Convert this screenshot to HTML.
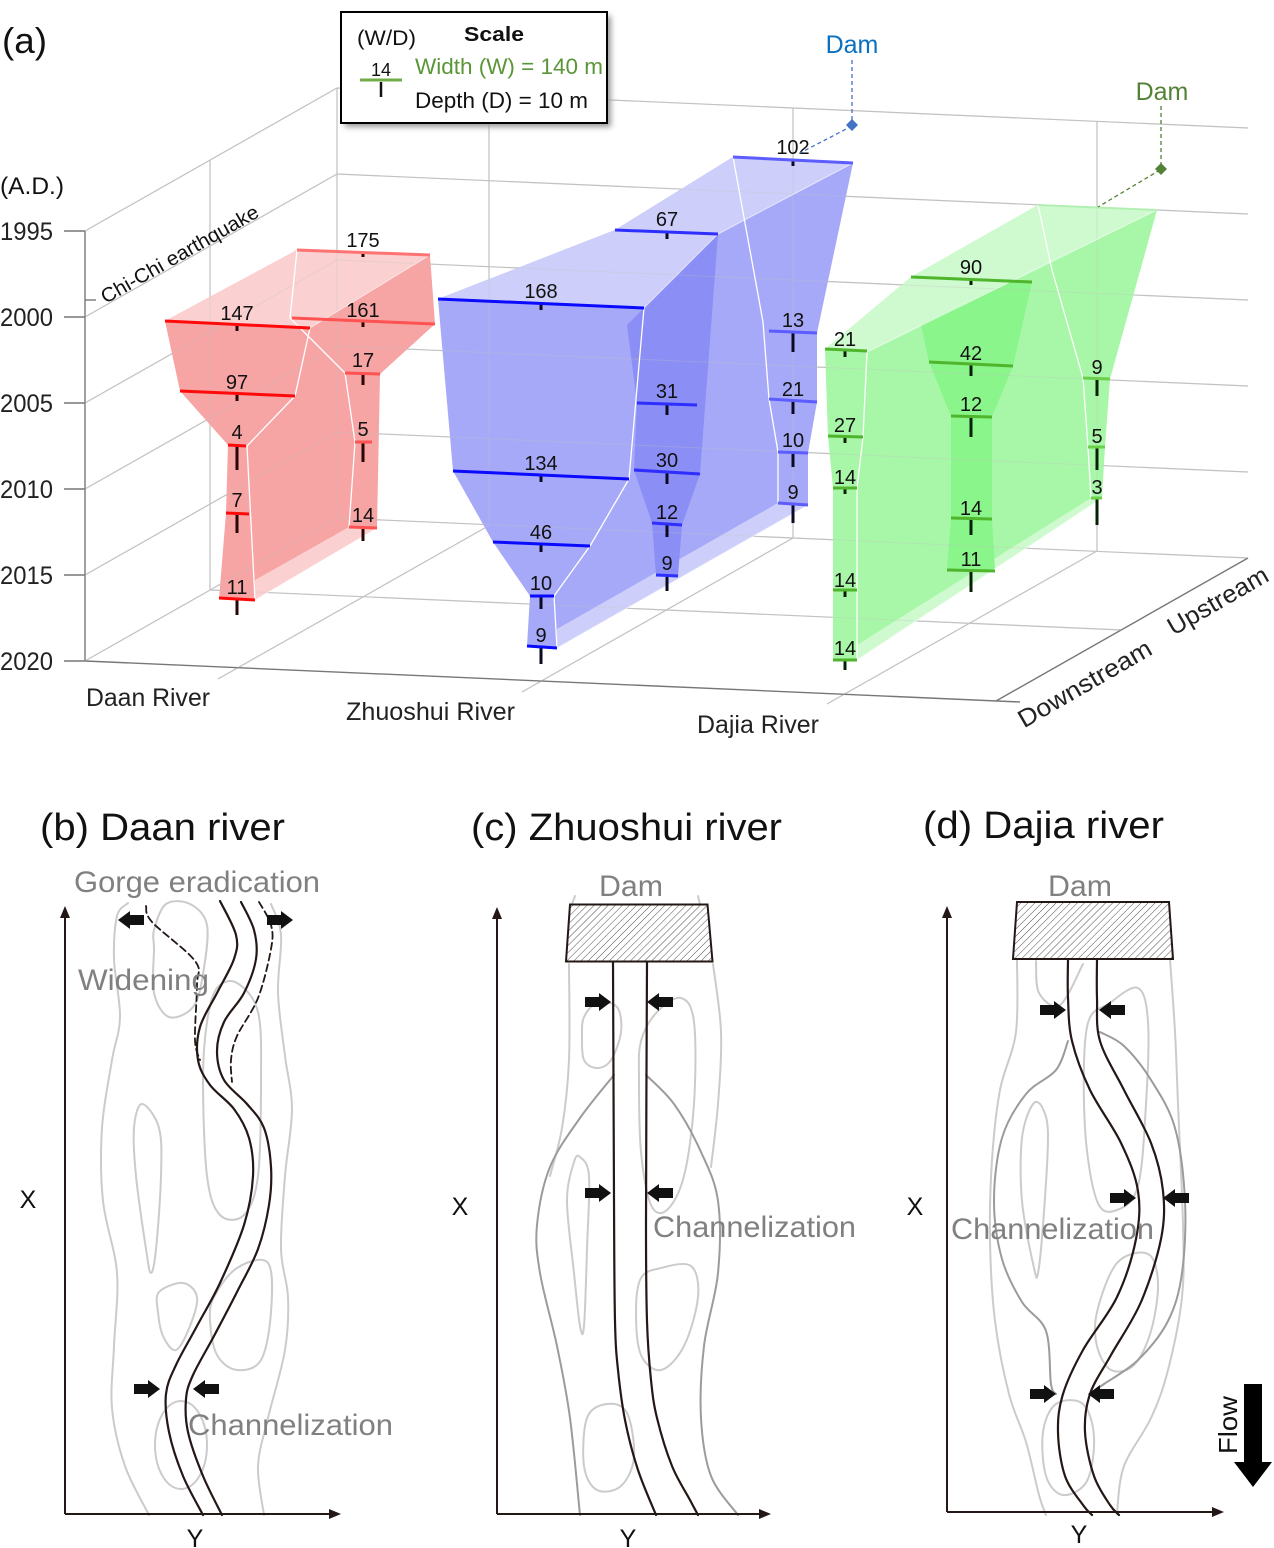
<!DOCTYPE html>
<html>
<head>
<meta charset="utf-8">
<style>
  html,body{margin:0;padding:0;background:#fff;}
  svg{display:block;}
  text{font-family:"Liberation Sans",Arial,sans-serif;}
</style>
</head>
<body>
<svg id="main" width="1274" height="1548" viewBox="0 0 1274 1548" xmlns="http://www.w3.org/2000/svg">
<defs>
  <pattern id="hatch" patternUnits="userSpaceOnUse" width="5" height="5" patternTransform="rotate(45)">
    <line x1="0" y1="0" x2="0" y2="5" stroke="#3a3a3a" stroke-width="0.9"/>
  </pattern>
  <filter id="blur" x="-10%" y="-10%" width="130%" height="140%">
    <feGaussianBlur stdDeviation="3"/>
  </filter>
</defs>
<rect width="1274" height="1548" fill="#fff"/>

<!-- ================= PANEL (a) GRID ================= -->
<g id="grid" stroke="#c2c2c2" stroke-width="1.2" fill="none">
  <line x1="85" y1="231" x2="337" y2="88"/>
  <line x1="85" y1="317" x2="337" y2="174"/>
  <line x1="85" y1="403" x2="337" y2="260"/>
  <line x1="85" y1="489" x2="337" y2="346"/>
  <line x1="85" y1="575" x2="337" y2="432"/>
  <line x1="85" y1="661" x2="337" y2="518"/>
  <line x1="337" y1="88" x2="1248" y2="128"/>
  <line x1="337" y1="174" x2="1248" y2="214"/>
  <line x1="337" y1="260" x2="1248" y2="300"/>
  <line x1="337" y1="346" x2="1248" y2="386"/>
  <line x1="337" y1="432" x2="1248" y2="472"/>
  <line x1="337" y1="518" x2="1248" y2="558"/>
  <line x1="210" y1="160" x2="210" y2="590"/>
  <line x1="337" y1="88" x2="337" y2="518"/>
  <line x1="489" y1="95" x2="489" y2="525"/>
  <line x1="793" y1="108" x2="793" y2="538"/>
  <line x1="1097" y1="121" x2="1097" y2="551"/>
  <line x1="210" y1="590" x2="1122" y2="630"/>
  <line x1="218" y1="679" x2="490" y2="525"/>
  <line x1="522" y1="692" x2="793" y2="538"/>
  <line x1="827" y1="704" x2="1097" y2="551"/>
</g>
<g stroke="#777" stroke-width="1.4" fill="none">
  <line x1="85" y1="231" x2="85" y2="661"/>
  <line x1="85" y1="661" x2="1020" y2="702"/>
  <line x1="996" y1="701" x2="1248" y2="558"/>
  <line x1="64" y1="231" x2="85" y2="231"/>
  <line x1="64" y1="317" x2="85" y2="317"/>
  <line x1="64" y1="403" x2="85" y2="403"/>
  <line x1="64" y1="489" x2="85" y2="489"/>
  <line x1="64" y1="575" x2="85" y2="575"/>
  <line x1="64" y1="661" x2="85" y2="661"/>
  <line x1="85" y1="300" x2="96" y2="300"/>
</g>

<!-- ================= RED (Daan) ================= -->
<polygon fill="#f6a4a4" points="165,321 297,250 430,255 435,324 380,374 377,528 255,600 219,599 226,513 228,445 180,391"/>
<polygon fill="#fbd0d0" points="165,321 297,250 430,255 310,328"/>
<polygon fill="#fbd0d0" points="255,580 255,600 377,528 349,527"/>

<!-- ================= BLUE (Zhuoshui) ================= -->
<polygon fill="#a6a9f8" points="438,299 615,230 733,157 853,163 817,333 817,402 808,453 808,505 557,648 527,646 530,596 493,542 453,471"/>
<polygon fill="#cdcffa" points="438,299 615,230 733,157 853,163 718,234 644,308"/>
<polygon fill="#cdcffa" points="557,629 557,648 808,505 778,503"/>
<polygon fill="#8b8ef4" points="627,325 718,234 700,474 682,525 678,576 656,575 652,523 634,470 637,403"/>

<!-- ================= GREEN (Dajia) ================= -->
<polygon fill="#a8f7a8" points="825,349 911,277 1038,205 1157,210 1110,379 1105,447 1102,498 857,660 833,660 833,590 833,488 828,436"/>
<polygon fill="#cffacf" points="825,349 911,277 1038,205 1157,210 867,352"/>
<polygon fill="#cffacf" points="857,645 857,660 1102,498 1091,498"/>
<polygon fill="#8af58a" points="921,325 1012,281 1032,282 1013,366 992,417 992,519 995,571 947,570 951,518 951,416 929,362"/>

<!-- grid showing through -->
<use href="#grid" opacity="0.28"/>

<!-- white edges -->
<g fill="none" stroke="#fff" stroke-width="1.3" stroke-linejoin="round">
  <polyline points="297,250 290,318 345,373 355,442 349,527"/>
  <polyline points="310,328 295,396 247,446 255,600"/>
  <polyline points="644,308 629,479 590,546 554,596 557,648"/>
  <polyline points="733,157 763,322 769,399 778,452 778,503"/>
  <polyline points="867,352 863,437 857,488 857,660"/>
  <polyline points="1038,205 1052,270 1083,378 1088,447 1091,498"/>
</g>
<g fill="none" stroke="#fff" stroke-width="1" stroke-opacity="0.6">
  <line x1="310" y1="328" x2="430" y2="255"/>
  <polyline points="644,308 718,234 853,163"/>
  <line x1="867" y1="352" x2="1157" y2="210"/>
  <line x1="255" y1="600" x2="377" y2="528"/>
  <line x1="557" y1="648" x2="808" y2="505"/>
  <line x1="857" y1="660" x2="1102" y2="498"/>
</g>

<!-- depth ticks -->
<g stroke-width="3" fill="none">
  <g stroke="#2a0505">
    <line x1="237" y1="326" x2="237" y2="331"/>
    <line x1="237" y1="394" x2="237" y2="401"/>
    <line x1="237" y1="446" x2="237" y2="470"/>
    <line x1="237" y1="514" x2="237" y2="533"/>
    <line x1="237" y1="600" x2="237" y2="615"/>
    <line x1="363" y1="253" x2="363" y2="257"/>
    <line x1="363" y1="321" x2="363" y2="327"/>
    <line x1="363" y1="374" x2="363" y2="385"/>
    <line x1="363" y1="442" x2="363" y2="462"/>
    <line x1="363" y1="528" x2="363" y2="541"/>
  </g>
  <g stroke="#0a0a22">
    <line x1="541" y1="304" x2="541" y2="310"/>
    <line x1="541" y1="475" x2="541" y2="482"/>
    <line x1="541" y1="544" x2="541" y2="552"/>
    <line x1="541" y1="596" x2="541" y2="609"/>
    <line x1="541" y1="647" x2="541" y2="664"/>
    <line x1="667" y1="232" x2="667" y2="239"/>
    <line x1="667" y1="404" x2="667" y2="415"/>
    <line x1="667" y1="472" x2="667" y2="484"/>
    <line x1="667" y1="524" x2="667" y2="537"/>
    <line x1="667" y1="576" x2="667" y2="591"/>
    <line x1="793" y1="160" x2="793" y2="166"/>
    <line x1="793" y1="332" x2="793" y2="352"/>
    <line x1="793" y1="401" x2="793" y2="414"/>
    <line x1="793" y1="453" x2="793" y2="467"/>
    <line x1="793" y1="504" x2="793" y2="523"/>
  </g>
  <g stroke="#062006">
    <line x1="845" y1="350" x2="845" y2="357"/>
    <line x1="845" y1="437" x2="845" y2="443"/>
    <line x1="845" y1="488" x2="845" y2="494"/>
    <line x1="845" y1="590" x2="845" y2="597"/>
    <line x1="845" y1="660" x2="845" y2="670"/>
    <line x1="971" y1="279" x2="971" y2="285"/>
    <line x1="971" y1="364" x2="971" y2="376"/>
    <line x1="971" y1="417" x2="971" y2="437"/>
    <line x1="971" y1="519" x2="971" y2="535"/>
    <line x1="971" y1="571" x2="971" y2="592"/>
    <line x1="1097" y1="379" x2="1097" y2="396"/>
    <line x1="1097" y1="447" x2="1097" y2="470"/>
    <line x1="1097" y1="498" x2="1097" y2="525"/>
  </g>
</g>

<!-- width bars -->
<g stroke-width="3" fill="none">
  <g stroke="#ff0a0a">
    <line x1="165" y1="321" x2="310" y2="328"/>
    <line x1="180" y1="391" x2="295" y2="396"/>
    <line x1="228" y1="445" x2="246" y2="446"/>
    <line x1="226" y1="513" x2="249" y2="514"/>
    <line x1="219" y1="598" x2="255" y2="600"/>
  </g>
  <g stroke="#ff5252">
    <line x1="297" y1="250" x2="430" y2="255" stroke="#ff7373"/>
    <line x1="292" y1="318" x2="435" y2="324"/>
    <line x1="345" y1="373" x2="380" y2="374"/>
    <line x1="355" y1="442" x2="372" y2="442"/>
    <line x1="349" y1="527" x2="377" y2="528"/>
  </g>
  <g stroke="#0a0aff">
    <line x1="438" y1="299" x2="644" y2="308"/>
    <line x1="453" y1="471" x2="629" y2="479"/>
    <line x1="493" y1="542" x2="590" y2="546"/>
    <line x1="530" y1="596" x2="554" y2="596"/>
    <line x1="527" y1="646" x2="557" y2="648"/>
  </g>
  <g stroke="#2e2eff">
    <line x1="615" y1="230" x2="718" y2="234"/>
    <line x1="637" y1="403" x2="697" y2="405"/>
    <line x1="634" y1="470" x2="700" y2="474"/>
    <line x1="652" y1="523" x2="682" y2="525"/>
    <line x1="656" y1="575" x2="678" y2="576"/>
  </g>
  <g stroke="#5c5cff">
    <line x1="733" y1="157" x2="853" y2="163"/>
    <line x1="769" y1="331" x2="817" y2="333"/>
    <line x1="769" y1="399" x2="817" y2="402"/>
    <line x1="778" y1="452" x2="808" y2="453"/>
    <line x1="778" y1="503" x2="808" y2="505"/>
  </g>
  <g stroke="#4fb52c">
    <line x1="825" y1="349" x2="867" y2="351"/>
    <line x1="828" y1="436" x2="863" y2="437"/>
    <line x1="833" y1="488" x2="857" y2="488"/>
    <line x1="833" y1="590" x2="857" y2="590"/>
    <line x1="833" y1="660" x2="857" y2="660"/>
    <line x1="911" y1="277" x2="1032" y2="282"/>
    <line x1="929" y1="362" x2="1013" y2="366"/>
    <line x1="951" y1="416" x2="992" y2="417"/>
    <line x1="951" y1="518" x2="992" y2="519"/>
    <line x1="947" y1="570" x2="995" y2="571"/>
  </g>
  <g stroke="#6ad04a">
    <line x1="1083" y1="378" x2="1110" y2="379"/>
    <line x1="1088" y1="447" x2="1105" y2="447"/>
    <line x1="1091" y1="498" x2="1102" y2="498"/>
  </g>
  <line x1="1038" y1="205" x2="1157" y2="210" stroke="#b2efb2" stroke-width="2"/>
</g>

<!-- data labels -->
<g font-size="20" fill="#111" text-anchor="middle">
  <text x="237" y="320">147</text>
  <text x="237" y="389">97</text>
  <text x="237" y="439">4</text>
  <text x="237" y="507">7</text>
  <text x="237" y="594">11</text>
  <text x="363" y="247">175</text>
  <text x="363" y="317">161</text>
  <text x="363" y="367">17</text>
  <text x="363" y="436">5</text>
  <text x="363" y="522">14</text>

  <text x="541" y="298">168</text>
  <text x="541" y="470">134</text>
  <text x="541" y="539">46</text>
  <text x="541" y="590">10</text>
  <text x="541" y="642">9</text>
  <text x="667" y="226">67</text>
  <text x="667" y="398">31</text>
  <text x="667" y="467">30</text>
  <text x="667" y="519">12</text>
  <text x="667" y="570">9</text>
  <text x="793" y="154">102</text>
  <text x="793" y="327">13</text>
  <text x="793" y="396">21</text>
  <text x="793" y="447">10</text>
  <text x="793" y="499">9</text>

  <text x="845" y="346">21</text>
  <text x="845" y="432">27</text>
  <text x="845" y="484">14</text>
  <text x="845" y="587">14</text>
  <text x="845" y="655">14</text>
  <text x="971" y="274">90</text>
  <text x="971" y="360">42</text>
  <text x="971" y="411">12</text>
  <text x="971" y="515">14</text>
  <text x="971" y="566">11</text>
  <text x="1097" y="374">9</text>
  <text x="1097" y="443">5</text>
  <text x="1097" y="494">3</text>
</g>

<!-- Dam annotations -->
<g fill="none" stroke-width="1.3" stroke-dasharray="4,3">
  <line x1="852" y1="60" x2="852" y2="124" stroke="#4472c4"/>
  <line x1="852" y1="126" x2="800" y2="153" stroke="#4472c4"/>
  <line x1="1161" y1="106" x2="1161" y2="167" stroke="#548235"/>
  <line x1="1160" y1="170" x2="1098" y2="207" stroke="#548235"/>
</g>
<polygon points="852,119 858,125 852,131 846,125" fill="#4472c4"/>
<polygon points="1161,163 1167,169 1161,175 1155,169" fill="#548235"/>
<text x="852" y="53" font-size="25" fill="#0a70c0" text-anchor="middle">Dam</text>
<text x="1162" y="100" font-size="25" fill="#548235" text-anchor="middle">Dam</text>

<!-- Scale box -->
<rect x="345" y="16" width="266" height="111" fill="#9a9a9a" filter="url(#blur)"/>
<rect x="341" y="12" width="266" height="111" fill="#fff" stroke="#000" stroke-width="2"/>
<text x="357" y="45" font-size="21" fill="#111" textLength="59" lengthAdjust="spacingAndGlyphs">(W/D)</text>
<text x="464" y="41" font-size="20" font-weight="bold" fill="#111" textLength="60" lengthAdjust="spacingAndGlyphs">Scale</text>
<text x="381" y="76" font-size="18" fill="#111" text-anchor="middle">14</text>
<line x1="360" y1="80" x2="402" y2="80" stroke="#70ad47" stroke-width="3"/>
<line x1="381" y1="82" x2="381" y2="97" stroke="#111" stroke-width="2.5"/>
<text x="415" y="74" font-size="22" fill="#5a9537" textLength="188" lengthAdjust="spacingAndGlyphs">Width (W) = 140 m</text>
<text x="415" y="108" font-size="22" fill="#111" textLength="173" lengthAdjust="spacingAndGlyphs">Depth (D) = 10 m</text>

<!-- axis labels panel a -->
<text x="2" y="53" font-size="36" fill="#111" textLength="45" lengthAdjust="spacingAndGlyphs">(a)</text>
<text x="0" y="194" font-size="24" fill="#111" textLength="64" lengthAdjust="spacingAndGlyphs">(A.D.)</text>
<g font-size="25" fill="#222">
  <text x="0" y="240" textLength="53" lengthAdjust="spacingAndGlyphs">1995</text>
  <text x="0" y="326" textLength="53" lengthAdjust="spacingAndGlyphs">2000</text>
  <text x="0" y="412" textLength="53" lengthAdjust="spacingAndGlyphs">2005</text>
  <text x="0" y="498" textLength="53" lengthAdjust="spacingAndGlyphs">2010</text>
  <text x="0" y="584" textLength="53" lengthAdjust="spacingAndGlyphs">2015</text>
  <text x="0" y="670" textLength="53" lengthAdjust="spacingAndGlyphs">2020</text>
</g>
<text x="183" y="260" font-size="20" fill="#111" text-anchor="middle" transform="rotate(-29.6 183 260)" textLength="178" lengthAdjust="spacingAndGlyphs">Chi-Chi earthquake</text>
<g font-size="25" fill="#222">
  <text x="86" y="706" textLength="124" lengthAdjust="spacingAndGlyphs">Daan River</text>
  <text x="346" y="720" textLength="169" lengthAdjust="spacingAndGlyphs">Zhuoshui River</text>
  <text x="697" y="733" textLength="122" lengthAdjust="spacingAndGlyphs">Dajia River</text>
  <text x="1089" y="691" text-anchor="middle" transform="rotate(-30 1089 691)" textLength="150" lengthAdjust="spacingAndGlyphs">Downstream</text>
  <text x="1222" y="608" text-anchor="middle" transform="rotate(-30 1222 608)" textLength="112" lengthAdjust="spacingAndGlyphs">Upstream</text>
</g>

<!-- ================= PANEL TITLES ================= -->
<g font-size="38" fill="#111">
  <text x="40" y="840" textLength="245" lengthAdjust="spacingAndGlyphs">(b) Daan river</text>
  <text x="471" y="840" textLength="311" lengthAdjust="spacingAndGlyphs">(c) Zhuoshui river</text>
  <text x="923" y="838" textLength="241" lengthAdjust="spacingAndGlyphs">(d) Dajia river</text>
</g>

<!-- ================= PANEL (b) ================= -->
<g fill="none" stroke-linejoin="round" stroke-linecap="round">
  <g stroke="#cbcbcb" stroke-width="2">
    <polyline class="sm" points="128,903 117,916 114,959 120,1017 112,1060 102,1128 103,1201 117,1273 114,1346 112,1408 125,1466 149,1515"/>
    <polyline class="sm" points="271,904 281,935 278,993 285,1056 292,1109 285,1176 281,1249 288,1297 285,1350 268,1418 258,1466 264,1515"/>
    <polygon class="sm" points="166,904 190,904 207,925 203,974 193,1007 169,1017 154,993 154,949 154,930"/>
    <polygon class="sm" points="217,988 237,983 258,1012 261,1080 258,1176 244,1215 220,1215 207,1176 203,1080 207,1022"/>
    <polygon class="sm" points="142,1104 159,1128 161,1176 156,1249 151,1273 146,1249 136,1176 134,1128"/>
    <polygon class="sm" points="159,1292 183,1283 197,1297 190,1326 176,1350 163,1336 158,1312"/>
    <polygon class="sm" points="214,1297 237,1268 268,1263 271,1312 261,1360 237,1370 217,1355 210,1321"/>
    <ellipse cx="181" cy="1445" rx="26" ry="44"/>
  </g>
  <g stroke="#231815" stroke-width="2.2">
    <polyline class="sm" points="220,901 236,935 234,959 217,993 200,1027 198,1060 210,1085 234,1109 249,1138 253,1176 244,1225 220,1283 197,1326 176,1365 166,1394 169,1432 183,1476 203,1515"/>
    <polyline class="sm" points="241,902 254,930 256,959 244,993 224,1022 217,1051 224,1080 247,1104 264,1128 271,1167 269,1205 258,1249 237,1292 214,1336 193,1375 186,1399 188,1432 203,1476 222,1515"/>
  </g>
  <g stroke="#231815" stroke-width="1.8" stroke-dasharray="7,4">
    <polyline class="sm" points="146,906 152,922 195,961 197,985 195,1040 200,1060"/>
    <polyline class="sm" points="259,902 271,925 271,949 258,998 237,1036 231,1060 232,1082"/>
  </g>
</g>
<g fill="#111">
  <polygon points="144,915 130,915 130,911 118,920 130,929 130,925 144,925"/>
  <polygon points="267,915 281,915 281,911 293,920 281,929 281,925 267,925"/>
  <polygon points="134,1384 148,1384 148,1380 160,1389 148,1398 148,1394 134,1394"/>
  <polygon points="219,1384 205,1384 205,1380 193,1389 205,1398 205,1394 219,1394"/>
</g>
<g font-size="30" fill="#808080">
  <text x="74" y="892" textLength="246" lengthAdjust="spacingAndGlyphs">Gorge eradication</text>
  <text x="78" y="990" textLength="131" lengthAdjust="spacingAndGlyphs">Widening</text>
  <text x="188" y="1435" textLength="205" lengthAdjust="spacingAndGlyphs">Channelization</text>
</g>
<!-- axes b -->
<g stroke="#231815" stroke-width="2" fill="none">
  <line x1="65" y1="1514" x2="65" y2="914"/>
  <line x1="65" y1="1514" x2="333" y2="1514"/>
</g>
<polygon points="65,906 60,918 70,918" fill="#231815"/>
<polygon points="341,1514 329,1509 329,1519" fill="#231815"/>
<text x="28" y="1208" font-size="25" fill="#111" text-anchor="middle">X</text>
<text x="195" y="1547" font-size="25" fill="#111" text-anchor="middle">Y</text>

<!-- ================= PANEL (c) ================= -->
<g fill="none" stroke-linejoin="round" stroke-linecap="round">
  <g stroke="#cbcbcb" stroke-width="2">
    <polyline class="sm" points="569,964 569,1060 562,1128 550,1176"/>
    <polyline class="sm" points="713,964 721,1032 718,1104 711,1167"/>
    <polyline points="575,896 572,904"/>
    <polyline points="698,896 700,904"/>
    <polygon class="sm" points="584,1017 597,1003 617,1007 621,1032 611,1060 597,1068 584,1060 582,1036"/>
    <polygon class="sm" points="641,1041 657,1012 681,998 694,1022 694,1104 684,1176 667,1210 651,1205 641,1152 639,1080"/>
    <polygon class="sm" points="574,1162 580,1157 589,1176 587,1249 584,1326 580,1326 574,1273 567,1201"/>
    <polygon class="sm" points="641,1278 661,1268 691,1266 698,1297 684,1346 661,1370 641,1355 636,1312"/>
    <polygon class="sm" points="587,1418 607,1404 627,1413 634,1457 621,1486 597,1490 584,1466"/>
  </g>
  <g stroke="#9b9b9b" stroke-width="2">
    <polyline class="sm" points="614,1075 580,1118 550,1167 537,1225 540,1273 557,1346 570,1418 580,1515"/>
    <polyline class="sm" points="646,1075 674,1104 701,1152 718,1201 718,1273 704,1346 701,1418 711,1476 738,1515"/>
  </g>
  <g stroke="#231815" stroke-width="2.2">
    <polyline class="sm" points="613,962 614,1200 615,1321 618,1370 625,1420 638,1470 656,1515"/>
    <polyline class="sm" points="647,962 646,1225 647,1321 651,1380 657,1418 672,1466 690,1500 698,1515"/>
  </g>
</g>
<polygon points="570,904.5 707.5,904.5 712.5,961.5 566,961.5" fill="url(#hatch)" stroke="#231815" stroke-width="2"/>
<g fill="#111">
  <polygon points="585,997 599,997 599,993 611,1002 599,1011 599,1007 585,1007"/>
  <polygon points="673,997 659,997 659,993 647,1002 659,1011 659,1007 673,1007"/>
  <polygon points="585,1188 599,1188 599,1184 611,1193 599,1202 599,1198 585,1198"/>
  <polygon points="673,1188 659,1188 659,1184 647,1193 659,1202 659,1198 673,1198"/>
</g>
<g font-size="30" fill="#808080">
  <text x="631" y="896" text-anchor="middle" textLength="64" lengthAdjust="spacingAndGlyphs">Dam</text>
  <text x="653" y="1237" textLength="203" lengthAdjust="spacingAndGlyphs">Channelization</text>
</g>
<g stroke="#231815" stroke-width="2" fill="none">
  <line x1="497" y1="1514" x2="497" y2="915"/>
  <line x1="497" y1="1514" x2="763" y2="1514"/>
</g>
<polygon points="497,907 492,919 502,919" fill="#231815"/>
<polygon points="771,1514 759,1509 759,1519" fill="#231815"/>
<text x="460" y="1215" font-size="25" fill="#111" text-anchor="middle">X</text>
<text x="628" y="1547" font-size="25" fill="#111" text-anchor="middle">Y</text>

<!-- ================= PANEL (d) ================= -->
<g fill="none" stroke-linejoin="round" stroke-linecap="round">
  <g stroke="#cbcbcb" stroke-width="2">
    <polyline class="sm" points="1017,959 1016,1032 1000,1090 992,1160 990,1240 995,1321 1009,1394 1026,1442 1039,1495 1046,1515"/>
    <polyline class="sm" points="1170,959 1175,1032 1178,1104 1183,1225 1182,1297 1168,1370 1151,1418 1124,1466 1117,1512"/>
    <polyline class="sm" points="1036,961 1039,993 1060,1005 1083,964"/>
    <polygon class="sm" points="1087,1027 1110,1003 1138,988 1148,1022 1146,1104 1138,1186 1117,1210 1097,1201 1085,1128"/>
    <polygon class="sm" points="1033,1104 1043,1109 1048,1138 1043,1225 1038,1273 1034,1268 1022,1201 1022,1138"/>
    <polygon class="sm" points="1097,1312 1117,1263 1148,1254 1158,1283 1151,1331 1134,1365 1111,1370 1097,1346"/>
    <polygon class="sm" points="1043,1432 1056,1404 1083,1404 1094,1437 1087,1481 1063,1495 1046,1476"/>
  </g>
  <g stroke="#9b9b9b" stroke-width="2">
    <polyline class="sm" points="1068,1041 1056,1070 1026,1094 1002,1138 994,1201 1002,1259 1022,1302 1046,1331 1051,1384 1056,1394"/>
    <polyline class="sm" points="1100,1032 1124,1046 1151,1080 1175,1128 1185,1201 1182,1273 1168,1321 1138,1360 1104,1384 1097,1389"/>
  </g>
  <g stroke="#231815" stroke-width="2.2">
    <polyline class="sm" points="1068,959 1068,998 1072,1041 1090,1090 1121,1143 1138,1191 1136,1239 1117,1297 1083,1350 1063,1394 1058,1432 1065,1476 1083,1505 1092,1515"/>
    <polyline class="sm" points="1097,959 1097,998 1100,1041 1124,1090 1151,1143 1163,1191 1161,1239 1141,1302 1111,1355 1090,1394 1085,1432 1094,1476 1110,1505 1119,1515"/>
  </g>
</g>
<polygon points="1017,902 1169,902 1173,959 1013,959" fill="url(#hatch)" stroke="#231815" stroke-width="2"/>
<g fill="#111">
  <polygon points="1040,1005 1054,1005 1054,1001 1066,1010 1054,1019 1054,1015 1040,1015"/>
  <polygon points="1125,1005 1111,1005 1111,1001 1099,1010 1111,1019 1111,1015 1125,1015"/>
  <polygon points="1110,1193 1124,1193 1124,1189 1136,1198 1124,1207 1124,1203 1110,1203"/>
  <polygon points="1189,1193 1175,1193 1175,1189 1163,1198 1175,1207 1175,1203 1189,1203"/>
  <polygon points="1030,1389 1044,1389 1044,1385 1056,1394 1044,1403 1044,1399 1030,1399"/>
  <polygon points="1114,1389 1100,1389 1100,1385 1088,1394 1100,1403 1100,1399 1114,1399"/>
</g>
<g font-size="30" fill="#808080">
  <text x="1080" y="896" text-anchor="middle" textLength="64" lengthAdjust="spacingAndGlyphs">Dam</text>
  <text x="951" y="1239" textLength="203" lengthAdjust="spacingAndGlyphs">Channelization</text>
</g>
<g stroke="#231815" stroke-width="2" fill="none">
  <line x1="947" y1="1512" x2="947" y2="914"/>
  <line x1="947" y1="1512" x2="1216" y2="1512"/>
</g>
<polygon points="947,906 942,918 952,918" fill="#231815"/>
<polygon points="1224,1512 1212,1507 1212,1517" fill="#231815"/>
<text x="915" y="1215" font-size="25" fill="#111" text-anchor="middle">X</text>
<text x="1079" y="1543" font-size="25" fill="#111" text-anchor="middle">Y</text>

<!-- Flow arrow -->
<rect x="1244" y="1384" width="18" height="79" fill="#000"/>
<polygon points="1234,1462 1272,1462 1253,1487" fill="#000"/>
<text x="1237" y="1425" font-size="26" fill="#111" text-anchor="middle" transform="rotate(-90 1237 1425)" textLength="58" lengthAdjust="spacingAndGlyphs">Flow</text>
</svg>
<script>
(function(){
  var els = document.querySelectorAll('.sm');
  for (var k = 0; k < els.length; k++) {
    var e = els[k];
    var closed = e.tagName.toLowerCase() === 'polygon';
    var nums = e.getAttribute('points').trim().split(/[\s,]+/).map(Number);
    var p = [];
    for (var i = 0; i + 1 < nums.length; i += 2) p.push([nums[i], nums[i+1]]);
    var n = p.length;
    if (n < 3) continue;
    var g = function(i){
      if (closed) return p[(i % n + n) % n];
      return p[Math.max(0, Math.min(n - 1, i))];
    };
    var d = 'M' + p[0][0] + ',' + p[0][1];
    var segs = closed ? n : n - 1;
    for (var s = 0; s < segs; s++) {
      var p0 = g(s - 1), p1 = g(s), p2 = g(s + 1), p3 = g(s + 2);
      var c1x = p1[0] + (p2[0] - p0[0]) / 6, c1y = p1[1] + (p2[1] - p0[1]) / 6;
      var c2x = p2[0] - (p3[0] - p1[0]) / 6, c2y = p2[1] - (p3[1] - p1[1]) / 6;
      d += ' C' + c1x.toFixed(1) + ',' + c1y.toFixed(1) + ' ' + c2x.toFixed(1) + ',' + c2y.toFixed(1) + ' ' + p2[0] + ',' + p2[1];
    }
    if (closed) d += ' Z';
    var path = document.createElementNS('http://www.w3.org/2000/svg', 'path');
    path.setAttribute('d', d);
    for (var a = 0; a < e.attributes.length; a++) {
      var at = e.attributes[a];
      if (at.name !== 'points' && at.name !== 'class') path.setAttribute(at.name, at.value);
    }
    e.parentNode.replaceChild(path, e);
  }
})();
</script>
</body>
</html>
